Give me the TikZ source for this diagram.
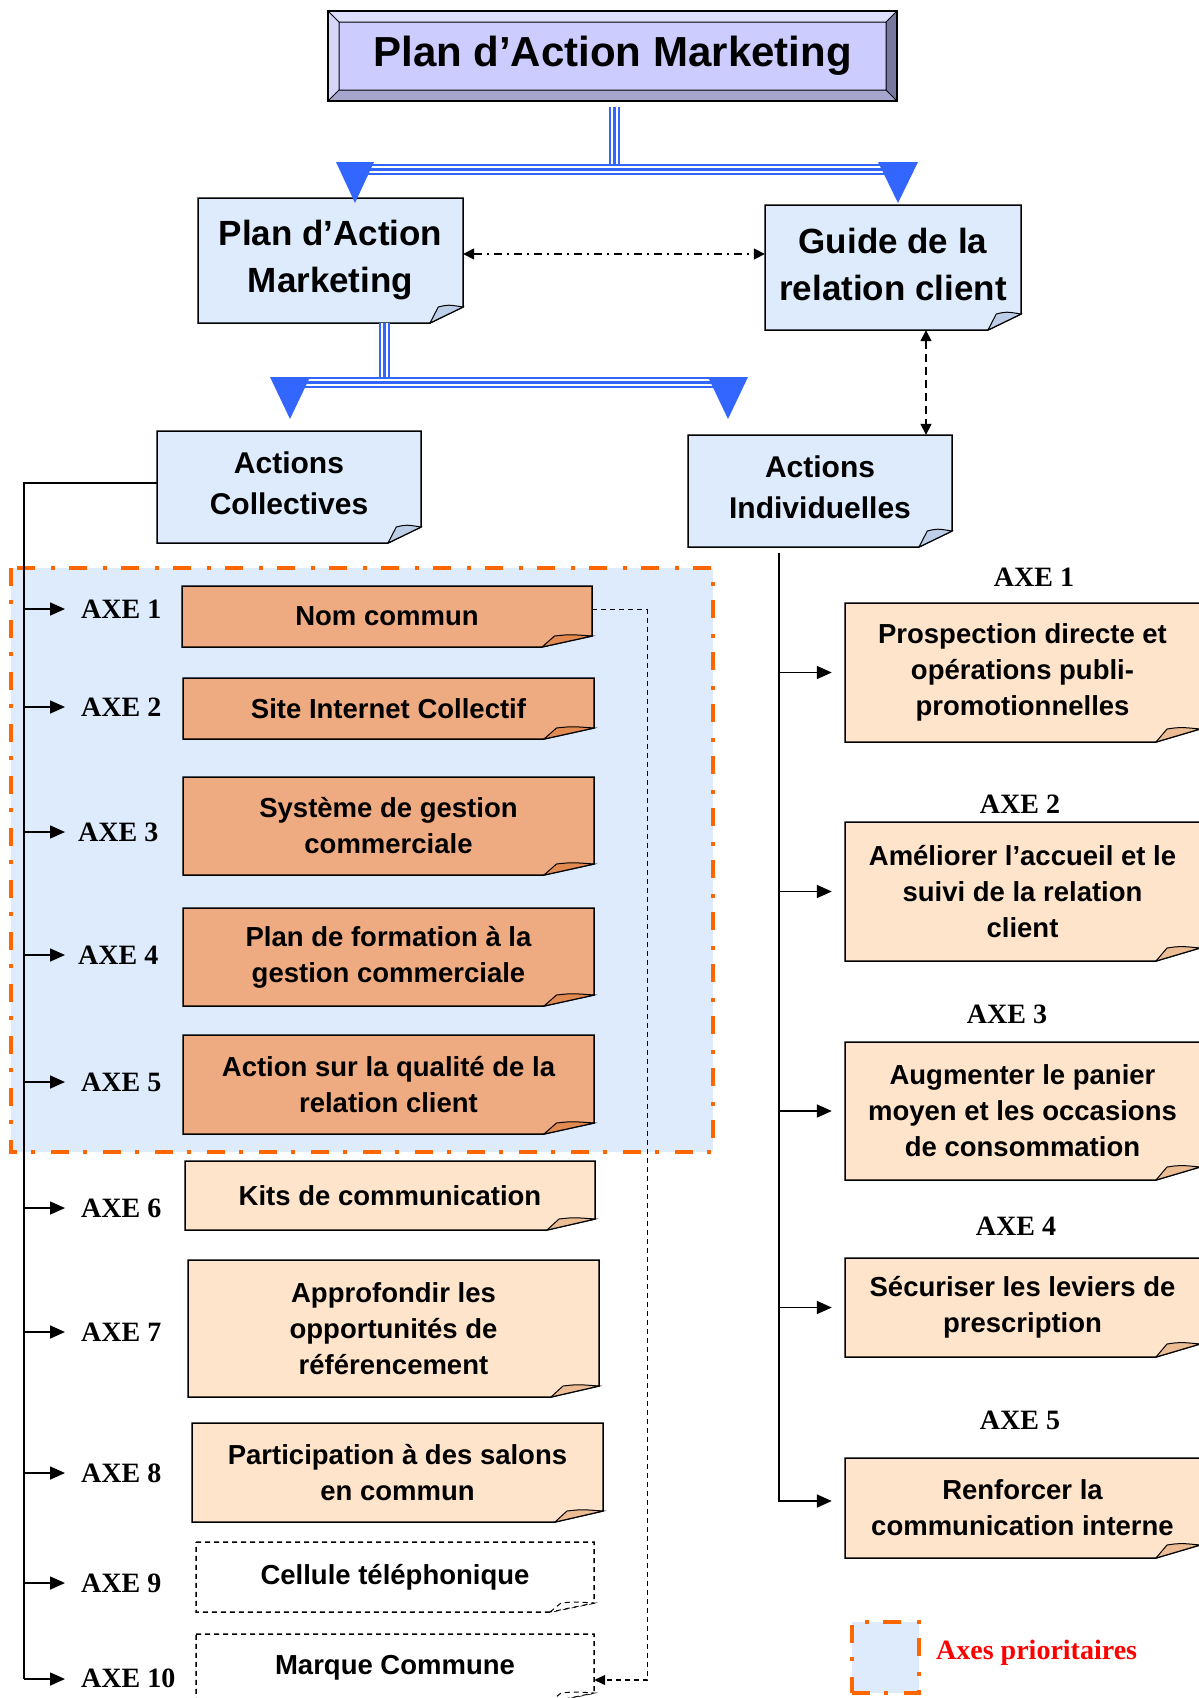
\documentclass[tikz,border=0pt]{standalone}
\usepackage{fontspec}
\setmainfont{Liberation Sans}
\newfontfamily\serifbf{Liberation Serif}
\usetikzlibrary{arrows.meta}

\definecolor{lblue}{RGB}{221,235,253}
\definecolor{lbflap}{RGB}{188,206,232}
\definecolor{dorange}{RGB}{238,170,128}
\definecolor{doflap}{RGB}{226,138,80}
\definecolor{peach}{RGB}{255,228,204}
\definecolor{peflap}{RGB}{236,188,148}
\definecolor{cblue}{RGB}{51,102,255}
\definecolor{borange}{RGB}{255,102,0}
\definecolor{tfill}{RGB}{204,204,255}
\definecolor{tbtop}{RGB}{222,222,255}
\definecolor{tbleft}{RGB}{214,214,248}
\definecolor{tbright}{RGB}{120,120,158}
\definecolor{tbbot}{RGB}{165,165,205}

\newcommand{\fntT}{\fontsize{42}{50}\selectfont\bfseries}
\newcommand{\fntM}{\fontsize{35}{47}\selectfont\bfseries}
\newcommand{\fntA}{\fontsize{30}{41}\selectfont\bfseries}
\newcommand{\fntB}{\fontsize{27.5}{36}\selectfont\bfseries}
\newcommand{\fntX}{\serifbf\fontsize{28}{32}\selectfont\bfseries}

\tikzset{
  fw/.store in=\fw, fh/.store in=\fh, bfill/.store in=\bfill, ffill/.store in=\ffill,
  boxline/.style={solid},
  lbbox/.style={fw=33, fh=16, bfill=lblue, ffill=lbflap, boxline/.style={solid}},
  obox/.style={fw=50, fh=11, bfill=dorange, ffill=doflap, boxline/.style={solid}},
  pbox/.style={fw=48, fh=11, bfill=peach, ffill=peflap, boxline/.style={solid}},
  rbox/.style={fw=44, fh=13, bfill=peach, ffill=peflap, boxline/.style={solid}},
  dbox/.style={fw=44, fh=9, bfill=white, ffill=white, boxline/.style={dash pattern=on 5pt off 4pt}},
  trip/.style={draw=cblue, line width=11pt, postaction={draw=white, line width=7pt}, postaction={draw=cblue, line width=3pt}},
  conn/.style={draw=black, line width=1.6pt},
  arr/.style={conn, -{Triangle[length=15pt,width=13pt]}},
  prio/.style={draw=borange, line width=4pt, dash pattern=on 18pt off 14pt on 4pt off 16pt},
}

\newcommand{\foldbox}[8]{%
  \begin{scope}[#6]
    \path[draw=black, line width=1.5pt, fill=\bfill, boxline]
      (#2,#3) -- (#4,#3) -- (#4,{#5-\fh}) -- ({#4-\fw},#5) -- (#2,#5) -- cycle;
    \path[draw=black, line width=1pt, fill=\ffill, boxline]
      ({#4-\fw},#5) .. controls ({#4-0.88*\fw},{#5-0.55*\fh}) .. ({#4-0.75*\fw},{#5-\fh})
      .. controls ({#4-0.45*\fw},{#5-1.15*\fh}) .. (#4,{#5-\fh}) -- cycle;
    \node[inner sep=0pt, align=center, minimum width={(#4-#2)*1pt},
          minimum height={(#5-#3)*1pt}, #7] (#1) at ({(#2+#4)/2},{(#3+#5)/2}) {#8};
  \end{scope}}

\begin{document}
\begin{tikzpicture}[x=1pt,y=-1pt]
\fill[white] (0,0) rectangle (1199,1698);
\useasboundingbox (0,0) rectangle (1199,1698);

% ---------- title with bevel ----------
\fill[tbtop] (328,11) -- (897,11) -- (886,22) -- (339,22) -- cycle;
\fill[tbleft] (328,11) -- (339,22) -- (339,90) -- (328,101) -- cycle;
\fill[tbright] (897,11) -- (897,101) -- (886,90) -- (886,22) -- cycle;
\fill[tbbot] (328,101) -- (897,101) -- (886,90) -- (339,90) -- cycle;
\fill[tfill] (339,22) rectangle (886,90);
\draw[line width=1pt] (339,22) rectangle (886,90)
  (328,11) -- (339,22) (897,11) -- (886,22) (328,101) -- (339,90) (897,101) -- (886,90);
\draw[line width=1.5pt] (328,11) rectangle (897,101);
\node[inner sep=0pt, minimum width=569pt, minimum height=90pt, font=\fntT]
  (title) at (612.5,56) {Plan d’Action Marketing};

% ---------- second level ----------
\foldbox{pam}{198}{198}{463}{323}{lbbox}{font=\fntM}{Plan d’Action\\Marketing}
\foldbox{guide}{765}{205}{1021}{330}{lbbox}{font=\fntM, yshift=3pt}{Guide de la\\relation client}

% blue connector from title
\coordinate (t1) at (355,203);
\coordinate (t2) at (898,203);
\draw[trip] ([yshift=-6pt,xshift=1.5pt]title.south) -- ([xshift=1.5pt]title.south |- 0,164);
\draw[trip] ([yshift=34pt]t1) -- ([yshift=34pt]t2);
\fill[cblue] (t1) -- ++(-19,-41) -- ++(38,0) -- cycle;
\fill[cblue] (t2) -- ++(-20,-41) -- ++(40,0) -- cycle;

% dash-dot link
\draw[conn, dash pattern=on 8pt off 5pt on 2pt off 5pt,
  {Triangle[length=11pt,width=11pt]}-{Triangle[length=11pt,width=11pt]}]
  (pam.east |- 0,254) -- (guide.west |- 0,254);

% ---------- third level ----------
\foldbox{ac}{157}{431}{421}{543}{lbbox}{font=\fntA, yshift=4pt}{Actions\\Collectives}
\foldbox{ai}{688}{435}{952}{547}{lbbox}{font=\fntA, yshift=4pt}{Actions\\Individuelles}

\coordinate (t3) at (290,419);
\coordinate (t4) at (728,419);
\draw[trip] ([xshift=53.5pt]pam.south) -- ([xshift=53.5pt]pam.south |- 0,377);
\draw[trip] ([yshift=37pt]t3) -- ([yshift=37pt]t4);
\fill[cblue] (t3) -- ++(-20,-42) -- ++(40,0) -- cycle;
\fill[cblue] (t4) -- ++(-20,-42) -- ++(40,0) -- cycle;

% dashed link guide <-> actions individuelles
\draw[conn, dash pattern=on 8pt off 5pt,
  {Triangle[length=11pt,width=11pt]}-{Triangle[length=11pt,width=11pt]}]
  ([xshift=33pt,yshift=-3pt]guide.south) -- ([xshift=33pt,yshift=-4pt]guide.south |- ai.north);

% ---------- priority zone ----------
\fill[lblue] (11,568) rectangle (713,1152);
\draw[prio] (11,568) rectangle (713,1152);

% left trunk
\coordinate (s1) at (24,609);
\coordinate (s2) at (24,707);
\coordinate (s3) at (24,832);
\coordinate (s4) at (24,955);
\coordinate (s5) at (24,1082);
\coordinate (s6) at (24,1208);
\coordinate (s7) at (24,1332);
\coordinate (s8) at (24,1473);
\coordinate (s9) at (24,1583);
\coordinate (s10) at (24,1679);
\draw[conn] (ac.west) -| (s10);
\foreach \i in {1,...,10} { \draw[arr] (s\i) -- ++(41,0); }

% AXE labels left
\node[anchor=west, inner sep=0pt, font=\fntX] (a1) at (81,609) {AXE 1};
\node[anchor=west, inner sep=0pt, font=\fntX] (a2) at (81,707) {AXE 2};
\node[anchor=west, inner sep=0pt, font=\fntX] (a3) at (78,832) {AXE 3};
\node[anchor=west, inner sep=0pt, font=\fntX] (a4) at (78,955) {AXE 4};
\node[anchor=west, inner sep=0pt, font=\fntX] (a5) at (81,1082) {AXE 5};
\node[anchor=west, inner sep=0pt, font=\fntX] (a6) at (81,1208) {AXE 6};
\node[anchor=west, inner sep=0pt, font=\fntX] (a7) at (81,1332) {AXE 7};
\node[anchor=west, inner sep=0pt, font=\fntX] (a8) at (81,1473) {AXE 8};
\node[anchor=west, inner sep=0pt, font=\fntX] (a9) at (81,1583) {AXE 9};
\node[anchor=west, inner sep=0pt, font=\fntX] (a10) at (81,1678) {AXE 10};

% left boxes
\foldbox{l1}{182}{586}{592}{647}{obox}{font=\fntB}{Nom commun}
\foldbox{l2}{183}{678}{594}{739}{obox}{font=\fntB}{Site Internet Collectif}
\foldbox{l3}{183}{777}{594}{875}{obox}{font=\fntB}{Système de gestion\\commerciale}
\foldbox{l4}{183}{908}{594}{1006}{obox}{font=\fntB}{Plan de formation à la\\gestion commerciale}
\foldbox{l5}{183}{1035}{594}{1134}{obox}{font=\fntB}{Action sur la qualité de la\\relation client}
\foldbox{l6}{185}{1161}{595}{1230}{pbox}{font=\fntB}{Kits de communication}
\foldbox{l7}{188}{1260}{599}{1397}{pbox}{font=\fntB}{Approfondir les\\opportunités de\\référencement}
\foldbox{l8}{192}{1423}{603}{1522}{pbox}{font=\fntB}{Participation à des salons\\en commun}
\foldbox{l9}{196}{1542}{594}{1612}{dbox}{font=\fntB}{Cellule téléphonique}
\foldbox{l10}{196}{1634}{594}{1702}{dbox}{font=\fntB}{Marque Commune}

% dashed link Nom commun -> Marque Commune
\draw[line width=1.2pt, dash pattern=on 5pt off 4pt, -{Triangle[length=11pt,width=10pt]}]
  ([yshift=7pt]l1.east) -- ++(55,0) |- ([yshift=-12pt]l10.east);

% ---------- right side ----------
\foldbox{r1}{845}{603}{1200}{742}{rbox}{font=\fntB}{Prospection directe et\\opérations publi-\\promotionnelles}
\foldbox{r2}{845}{822}{1200}{961}{rbox}{font=\fntB}{Améliorer l’accueil et le\\suivi de la relation\\client}
\foldbox{r3}{845}{1042}{1200}{1180}{rbox}{font=\fntB}{Augmenter le panier\\moyen et les occasions\\de consommation}
\foldbox{r4}{845}{1258}{1200}{1357}{rbox}{font=\fntB}{Sécuriser les leviers de\\prescription}
\foldbox{r5}{845}{1458}{1200}{1558}{rbox}{font=\fntB}{Renforcer la\\communication interne}

\node[inner sep=0pt, font=\fntX] (b1) at (1034,577) {AXE 1};
\node[inner sep=0pt, font=\fntX] (b2) at (1020,804) {AXE 2};
\node[inner sep=0pt, font=\fntX] (b3) at (1007,1014) {AXE 3};
\node[inner sep=0pt, font=\fntX] (b4) at (1016,1226) {AXE 4};
\node[inner sep=0pt, font=\fntX] (b5) at (1020,1420) {AXE 5};

\coordinate (rt) at (779,553);
\draw[arr, shorten >=13pt] (rt) |- ([yshift=7pt]r5.west);
\foreach \r in {r1,r2,r3,r4} { \draw[arr, shorten >=13pt] (\r.west -| rt) -- (\r.west); }

% ---------- legend ----------
\node[prio, fill=lblue, minimum width=67pt, minimum height=71pt, inner sep=0pt] (leg) at (885.5,1657.5) {};
\node[anchor=west, inner sep=0pt, font=\serifbf\fontsize{28}{32}\selectfont\bfseries, text=red]
  (legt) at (936,1653) {Axes prioritaires};
\end{tikzpicture}
\end{document}
